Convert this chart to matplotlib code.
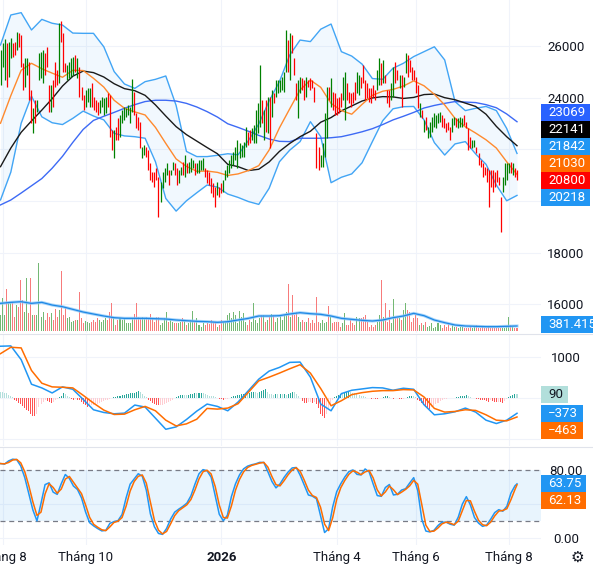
import numpy as np
import pandas as pd
import matplotlib
matplotlib.use("Agg")
import matplotlib.pyplot as plt
from matplotlib.patches import Rectangle
from matplotlib.lines import Line2D

plt.rcParams['font.family'] = ['Roboto', 'DejaVu Sans']

W, H, DPI = 593, 565, 100
FS = 9.5
INK = '#131722'
GRID = '#f0f3fa'

# OHLC bar range per session, hundreds of VND (Aug 2025 -> Aug 2026)
bar_high = [
    258.5, 261.0, 262.6, 261.0, 261.7, 263.0, 261.0, 261.7, 265.5, 264.9, 264.3, 253.3, 255.2, 255.2, 253.9, 243.0,
    235.9, 239.1, 239.1, 257.2, 257.8, 258.5, 257.2, 259.7, 244.9, 244.9, 246.8, 253.9, 250.7, 268.8, 269.6, 264.9,
    253.3, 252.6, 253.9, 255.2, 255.9, 256.5, 255.2, 252.0, 244.3, 241.0, 243.0, 243.6, 243.6, 245.6, 240.4, 239.1,
    238.5, 239.1, 240.4, 239.8, 240.4, 241.7, 241.0, 227.5, 227.5, 228.8, 232.0, 233.3, 235.2, 236.5, 235.9, 237.2,
    236.5,
    247.4, 242.3, 233.9, 232.7, 230.7, 221.0, 221.6, 221.0, 219.7, 214.6, 211.4, 211.4, 212.7, 209.4, 207.5, 211.4,
    212.7, 214.6, 212.0, 212.0, 215.2, 214.6, 212.7, 212.0, 213.3, 215.2, 217.8, 214.6, 215.2, 216.5, 215.9, 214.6,
    214.6, 215.9, 215.9, 216.5, 212.7, 212.0, 211.4, 208.8, 206.9, 205.6, 207.5, 205.6, 206.9, 208.1, 212.0, 214.0,
    215.9, 217.8, 219.1, 221.0, 223.6, 222.3, 221.6, 223.0, 228.8, 226.8, 227.5, 228.1, 229.4,
    235.2, 237.8, 252.6, 239.1, 235.2, 239.1, 240.4, 240.4, 243.0, 241.7, 246.8, 246.8, 246.8, 248.1, 250.1, 266.2,
    262.3, 264.9, 264.3, 255.2, 245.6, 246.8, 248.1, 247.5, 246.8, 248.1, 246.8, 247.5, 246.8, 244.3, 226.2, 221.0,
    217.8, 222.3, 233.9, 244.3, 244.3, 247.5, 242.3, 241.7, 239.8, 240.4, 241.7, 248.1, 250.1, 245.6, 242.3, 241.7,
    242.3, 246.2, 250.1, 248.8, 248.1, 252.6, 246.8, 245.6, 243.6, 243.6, 244.9, 243.0, 250.7, 255.2, 253.3, 254.6,
    248.8, 243.0,
    243.0, 245.6, 252.0, 253.9, 250.7, 248.8, 248.8, 248.1, 257.2, 256.5, 254.6, 252.0, 250.7, 248.1, 244.9, 237.8,
    235.2, 231.4, 232.7, 228.8, 230.7, 232.7, 233.9, 233.3, 233.9, 234.6, 233.3, 232.0, 230.1, 230.7, 228.8, 232.0,
    232.7, 232.0, 232.0, 232.7, 232.0, 233.3, 230.7, 228.1, 224.9, 223.6, 223.6, 221.0, 218.5, 215.9, 214.6, 213.3,
    212.7, 212.0, 212.0, 212.0, 211.4, 212.0, 209.4, 201.7, 209.4, 214.6, 214.6, 214.6, 215.2, 214.6, 212.7, 212.0,
]
bar_low = [
    244.9, 252.0, 246.8, 244.3, 248.1, 255.2, 255.9, 256.5, 258.5, 259.7, 252.0, 243.0, 244.3, 248.8, 239.1, 230.1,
    226.2, 230.1, 234.6, 246.8, 247.5, 245.6, 248.8, 252.0, 234.6, 234.6, 236.5, 244.3, 244.9, 245.6, 261.7, 250.1,
    250.1, 246.8, 247.5, 248.1, 248.8, 250.1, 247.5, 240.4, 239.1, 235.2, 236.5, 238.5, 236.5, 236.5, 235.2, 234.6,
    233.3, 234.0, 236.5, 233.3, 234.0, 236.5, 224.9, 219.8, 216.5, 223.6, 223.6, 224.9, 230.1, 231.4, 232.7, 233.3,
    230.1,
    234.6, 233.3, 228.1, 227.5, 220.4, 216.5, 217.8, 217.2, 212.0, 208.1, 207.5, 205.6, 208.1, 193.7, 199.7, 204.9,
    207.5, 210.1, 206.2, 210.1, 212.0, 210.1, 206.2, 206.8, 210.1, 210.1, 209.4, 210.8, 210.8, 211.4, 212.7, 210.1,
    210.8, 210.8, 212.0, 212.0, 209.4, 206.8, 206.2, 203.0, 201.7, 197.6, 202.4, 201.7, 203.0, 203.6, 208.1, 209.4,
    210.8, 212.7, 214.0, 215.9, 212.7, 216.5, 217.2, 217.2, 221.0, 221.6, 222.3, 223.6, 222.3,
    222.3, 226.2, 228.8, 230.1, 223.6, 226.8, 226.2, 220.4, 232.7, 237.8, 240.4, 241.7, 242.3, 243.0, 242.3, 250.1,
    250.1, 246.8, 257.2, 248.8, 239.1, 232.0, 241.7, 243.0, 239.1, 240.4, 244.3, 243.0, 243.6, 238.5, 212.7, 212.0,
    213.3, 213.3, 217.2, 224.3, 239.1, 236.5, 235.2, 233.3, 233.3, 233.9, 236.5, 239.1, 231.4, 239.1, 237.8, 236.5,
    237.8, 239.1, 241.7, 241.0, 243.6, 245.6, 239.1, 239.8, 238.5, 237.8, 240.4, 239.1, 243.0, 244.9, 244.9, 245.6,
    245.6, 237.8,
    236.5, 239.1, 240.4, 245.6, 246.8, 243.6, 236.5, 244.3, 249.4, 248.1, 250.1, 246.8, 246.8, 241.7, 235.9, 232.7,
    232.0, 226.8, 227.5, 224.3, 224.9, 226.8, 228.8, 228.1, 230.1, 230.7, 228.8, 228.1, 226.8, 227.5, 223.6, 226.8,
    229.4, 228.8, 228.1, 228.8, 228.8, 229.4, 228.1, 219.8, 220.4, 220.4, 221.0, 218.5, 213.9, 213.3, 209.4, 210.1,
    207.5, 197.8, 205.6, 203.6, 205.6, 207.5, 206.2, 187.9, 203.6, 206.2, 208.1, 210.7, 210.7, 210.1, 209.4, 208.1,
]
# G = session closed up, R = closed down
bar_dir = (
    "GGGRGGRRGR" "RRGGRRGRGG" "GGRRRGRRRG" "RRRGGGGRGR" "RRGGGRRRRG" "GGGRRRGRRG" "GGGGG"
    "GRRRRGGRRR" "RRRRGGGGRG" "GRRGGRGRGG" "GRGGGGRRRR" "RRGRRGGGGG" "GGGGGGGRRGG"
    "GGGRGRGRGR" "GGGGGGRGRR" "RGGRRGRRRR" "RRGGGGRGRR" "RRRGGRRRRR" "GGRRRRRRRR" "GGRGRR"
    "RGGRRGRGGR" "RRRRRGRGRG" "GGGGGGRRRR" "RGGRGGGRRR" "RGGRRRRRRR" "RRRRRRGGGG" "RGRR"
)

# volume per session, thousands of shares
volume_k = [
    1219, 2489, 1219, 3175, 2235, 2108, 2235, 1092, 1981, 1854, 3886, 2362, 1473, 4013, 1346, 4013,
    1219, 1219, 1219, 5156, 1092, 1473, 838, 1397, 1092, 1346, 838, 1651, 1092, 1600, 4572, 1219,
    1727, 965, 1092, 711, 787, 838, 838, 2997, 965, 584, 762, 711, 584, 711, 838, 711,
    965, 838, 711, 838, 965, 838, 1473, 2108, 1092, 457, 838, 965, 838, 965, 584, 584,
    584, 965, 1295, 2108, 1092, 965, 1092, 965, 1092, 965, 1295, 965, 711, 1092, 1092, 457,
    584, 965, 1473, 711, 838, 711, 635, 584, 635, 711, 965, 838, 457, 584, 838, 1524,
    711, 965, 457, 330, 584, 457, 584, 533, 838, 584, 711, 330, 457, 838, 711, 711,
    1219, 1397, 965, 1473, 1219, 584, 1524, 1092, 1346, 711, 457, 838, 711, 2159, 838, 584,
    965, 1219,
    1219, 711, 838, 1092, 1270, 1219, 711, 965, 1219, 838, 1219, 1473, 3581, 1092, 2743, 1219,
    1473, 1092, 711, 838, 711, 711, 965, 584, 838, 584, 2616, 711, 584, 838, 584, 711,
    1905, 1092, 584, 711, 711, 711, 330, 584, 1346, 457, 457, 838, 584, 457, 1092, 965,
    965, 1092, 1219, 711, 330, 457, 330, 457, 711, 1219, 3886, 1092, 2159, 711, 1600, 584,
    2413, 1092, 965, 965, 838, 1600, 2159, 1600, 1473, 711, 965, 1219, 965, 457, 584, 457,
    711, 330, 381, 584, 203, 330, 635, 457, 203, 457, 279, 584, 203, 457, 330, 279,
    203, 330, 279, 203, 254, 203, 330, 203, 279, 457, 203, 203, 330, 254, 203, 279,
    203, 254, 203, 254, 203, 203, 254, 203, 279, 1092, 457, 330, 254, 203,
]

# MACD histogram per session
macd_hist = [
    150, 150, 120, 110, 80, 60, 20, -60, -70, -120, -150, -200, -240, -290, -320, -400,
    -450, -450, -380, -220, -140, -100, -60, -70, -100, -130, -100, -60, -30, 20, 60, 130,
    90, 50, 20, -20, -40, -30, -50, -60, -100, -140, -180, -220, -200, -170, -160, -150,
    -140, -120, -100, -80, -60, -40, -20, 10, 20, 30, 40, 60, 70, 80, 90, 100,
    110, 120, 130, 150, 160, 140, 100, 60, 20, -40, -80, -120, -150, -170, -180, -170,
    -160, -140, -120, -100, -70, -40, -10, 20, 50, 70, 80, 70, 70, 80, 90, 100,
    110, 110, 120, 130, 110, 100, 80, 60, 50, 40, 20, 10, -20, -30, -40, -30,
    -20, -10, 20, 40, 60, 70, 80, 90, 100, 110, 90, 120, 140, 150, 140, 130,
    150, 160,
    200, 220, 150, 100, 90, 80, 90, 90, 100, 90, 100, 80, 100, 130, 150, 140,
    100, 60, 10, -80, -110, -120, -100, -90, -110, -100, -150, -250, -400, -450, -500, -380,
    -250, -150, -60, 20, 60, 80, 100, 100, 120, 140, 160, 140, 120, 110, 90, 70,
    50, 40, 30, 10, -10, -20, -15, -20, -25, -10, 10, 20, 40, 60, 30, -10,
    -20, -10, 10, -20, -30, -20, 10, 30, 50, 60, 50, 20, -40, -80, -130, -170,
    -210, -250, -260, -230, -200, -150, -110, -80, -50, -30, -20, -10, -10, -5, 5, 20,
    30, 40, 50, 60, 70, 40, 20, 10, -10, -20, -30, -40, -50, -60, -80, -90,
    -60, -70, -90, -100, -90, -100, -110, -80, -30, 20, 50, 80, 100, 90,
]

# smooth lines, sampled 51 times evenly from first to last session
ma_fast = [
    230.1, 240.8, 250.6, 253.3, 251.2, 249.5, 247.9, 250.6, 250.5, 247.5, 244.1, 239.0, 235.9, 234.5, 233.3, 228.5,
    222.3, 216.3, 213.4, 211.5, 211.6, 211.1, 209.9, 210.5, 211.8, 213.7, 219.7, 228.3, 235.7, 243.0, 246.8, 244.0,
    237.8, 235.0, 233.6, 237.4, 240.9, 242.5, 243.2, 244.5, 246.5, 244.6, 241.3, 237.2, 232.0, 228.7, 226.3, 223.7,
    220.5, 215.2, 210.3,
]
ma_mid = [
    213.3, 220.5, 226.6, 231.0, 235.2, 239.6, 244.5, 248.3, 250.3, 249.7, 248.0, 245.4, 243.5, 242.7, 240.9, 237.2,
    232.9, 228.8, 225.7, 223.2, 220.7, 218.3, 214.2, 213.3, 211.8, 212.3, 215.1, 219.2, 222.3, 224.9, 227.0, 230.5,
    232.3, 234.9, 236.8, 238.7, 239.9, 240.4, 240.3, 239.7, 240.1, 241.2, 241.4, 240.0, 239.2, 237.9, 236.6, 233.6,
    228.9, 224.9, 221.41,
]
ma_slow = [
    198.5, 200.4, 203.1, 205.9, 208.7, 212.7, 217.3, 222.7, 227.7, 231.2, 232.8, 234.3, 235.9, 237.3, 238.5, 239.0,
    239.0, 238.7, 237.8, 236.4, 234.6, 232.5, 229.9, 228.5, 227.0, 225.4, 224.0, 223.1, 223.0, 224.3, 224.3, 224.3,
    224.5, 224.9, 225.8, 226.8, 228.0, 229.6, 231.4, 232.8, 234.3, 236.0, 237.0, 237.8, 238.5, 238.3, 238.1, 237.3,
    236.1, 233.7, 230.69,
]
bb_upper = [
    260.4, 272.0, 272.9, 266.2, 270.3, 268.8, 268.1, 265.0, 264.9, 264.9, 259.7, 250.1, 245.3, 243.6, 246.2, 247.1,
    248.4, 237.0, 219.2, 217.2, 217.2, 217.7, 218.3, 217.9, 223.4, 229.8, 238.7, 246.2, 256.5, 262.3, 261.7, 266.5,
    268.5, 257.8, 256.1, 253.0, 247.4, 247.1, 251.4, 253.3, 255.9, 257.8, 259.7, 254.6, 238.5, 235.0, 235.9, 236.6,
    235.0, 228.1, 218.42,
]
bb_lower = [
    200.4, 211.2, 230.1, 240.6, 232.6, 230.3, 229.6, 232.0, 234.8, 232.9, 231.4, 226.2, 225.2, 224.9, 224.3, 215.2,
    201.0, 196.1, 200.1, 203.2, 206.2, 205.4, 202.7, 201.4, 199.8, 198.7, 204.9, 215.2, 219.7, 223.0, 230.7, 224.9,
    207.1, 209.2, 210.5, 214.8, 223.0, 231.1, 235.7, 236.5, 236.6, 231.4, 222.6, 217.8, 222.1, 223.0, 218.2, 214.2,
    206.2, 200.1, 202.18,
]
macd_line = [
    1263, 1271, 935, 336, 246, 123, 271, 213, -33, -287, -353, -385, -369, -172, -221, -492,
    -763, -705, -525, -320, -148, -205, -312, -98, 180, 459, 656, 746, 869, 877, 508, -148,
    -312, 107, 189, 221, 254, 246, 189, 238, 213, -164, -410, -385, -336, -246, -344, -541,
    -623, -541, -373,
]
macd_signal = [
    1082, 1238, 1222, 672, 361, 271, 262, 246, 66, -123, -295, -402, -394, -287, -205, -312,
    -541, -681, -631, -517, -254, -271, -246, -139, 139, 418, 508, 607, 713, 812, 607, 230,
    -189, -66, 82, 131, 164, 180, 180, 205, 197, 25, -254, -344, -328, -287, -303, -410,
    -541, -558, -463,
]
volume_ma_k = [
    2108, 2184, 2235, 2108, 2184, 1981, 1854, 1651, 1448, 1295, 1143, 1016, 965, 965, 965, 940,
    914, 838, 787, 737, 711, 660, 711, 838, 965, 1143, 1143, 1168, 1295, 1397, 1321, 1270,
    1143, 965, 889, 813, 762, 838, 1016, 1143, 1346, 1168, 838, 635, 457, 381, 356, 330,
    330, 356, 381.415,
]

# stochastic %K every second session, plus the last session
stoch_k = [
    87.5, 86.9, 90.6, 92.6, 92.1, 84.6, 71.0, 51.9, 33.2, 20.5, 41.0, 62.9, 65.0, 54.1, 51.5, 64.0,
    74.7, 70.2, 61.3, 57.2, 47.4, 30.9, 18.4, 14.6, 11.5, 8.8, 9.4, 17.6, 19.6, 20.8, 27.9, 47.3,
    63.4, 69.6, 75.6, 72.8, 56.3, 28.7, 13.6, 5.8, 4.7, 11.6, 22.6, 30.7, 34.2, 37.4, 41.2, 49.7,
    63.4, 75.6, 80.4, 79.0, 71.6, 49.8, 28.3, 20.6, 27.0, 48.9, 63.7, 74.2, 81.3, 84.5, 86.1, 87.2,
    88.9, 88.8, 78.0, 66.6, 59.1, 63.7, 71.3, 77.6, 82.4, 82.9, 73.6, 62.3, 50.8, 49.4, 46.3, 26.6,
    6.9, 11.4, 36.8, 54.7, 63.9, 71.8, 78.1, 80.0, 74.9, 74.2, 81.2, 77.8, 63.5, 50.1, 49.2, 59.5,
    63.0, 50.8, 51.6, 56.5, 58.1, 64.7, 71.0, 55.9, 22.4, 8.6, 7.6, 9.4, 15.1, 19.0, 19.0, 16.6,
    15.5, 24.9, 40.0, 48.8, 39.1, 24.5, 17.9, 14.1, 15.6, 22.4, 30.2, 33.6, 31.8, 37.6, 52.9, 61.5,
    63.75,
]

month_first_bar = [1, 42, 109, 166, 205, 251]
month_names = ['Tháng 8', 'Tháng 10', '2026', 'Tháng 4', 'Tháng 6', 'Tháng 8']

price_tags = [23069, 22141, 21842, 21030, 20800, 20218]
price_tag_colors = ['#2962ff', '#000000', '#2196f3', '#ff6d00', '#ff0000', '#2196f3']
volume_tag = 381.415
macd_tags = [90, -373, -463]
stoch_tags = [63.75, 62.13]

n = len(bar_high)
assert len(bar_low) == n and len(bar_dir) == n and len(volume_k) == n and len(macd_hist) == n
idx = np.arange(n)
high = np.array(bar_high) * 100
low = np.array(bar_low) * 100
up = np.array([c == 'G' for c in bar_dir])
line_x = np.linspace(0, n - 1, len(ma_fast))
k_x = np.r_[np.arange(0, n - 1, 2), n - 1]
stoch_d = pd.Series(stoch_k).rolling(2, min_periods=1).mean()

fig = plt.figure(figsize=(W / DPI, H / DPI), dpi=DPI)
fig.patch.set_facecolor('white')

CHART_R = 541
ppb = 516.5 / (n - 1)
XLIM = (-0.5 / ppb, (CHART_R - 0.5) / ppb)


def pane(top, bottom, ylim, grid):
    ax = fig.add_axes([0, 1 - bottom / H, CHART_R / W, (bottom - top) / H])
    ax.set_xlim(*XLIM)
    ax.set_ylim(*ylim)
    for s in ax.spines.values():
        s.set_visible(False)
    ax.set_xticks([])
    for v in grid:
        ax.axhline(v, color=GRID, lw=0.8, zorder=0)
    for m in month_first_bar:
        ax.axvline(m, color=GRID, lw=0.8, zorder=0)
    return ax


def right_scale(ax, ticks, labels):
    ax.set_yticks(ticks)
    ax.set_yticklabels(labels)
    ax.yaxis.set_ticks_position('right')
    ax.tick_params(axis='y', length=0, pad=18, labelsize=FS, labelcolor=INK,
                   left=False, labelleft=False, right=False, labelright=True)
    for tk in ax.yaxis.get_major_ticks():
        tk.label2.set_horizontalalignment('center')


# price pane with volume overlay
ax_p = pane(0, 333, (14893, 27780), range(16000, 26001, 2000))
ax_p.fill_between(line_x, np.array(bb_lower) * 100, np.array(bb_upper) * 100,
                  color='#2196f3', alpha=0.06, lw=0, zorder=1)
ax_p.plot(line_x, np.array(bb_upper) * 100, color='#42a5f5', lw=1.0, zorder=2)
ax_p.plot(line_x, np.array(bb_lower) * 100, color='#42a5f5', lw=1.0, zorder=2)
ax_p.plot(line_x, np.array(ma_slow) * 100, color='#3d6af5', lw=1.0, zorder=2)
ax_p.plot(line_x, np.array(ma_mid) * 100, color='#1a1a1a', lw=1.0, zorder=2)
ax_p.plot(line_x, np.array(ma_fast) * 100, color='#ff8a2e', lw=1.0, zorder=2)
ax_p.vlines(idx, low, high, colors=np.where(up, '#008000', '#ff0000'), lw=0.9, zorder=3)

ax_v = ax_p.twinx()
ax_v.set_xlim(*XLIM)
ax_v.set_ylim(-153, 25255)
ax_v.axis('off')
ax_v.bar(idx, volume_k, width=0.5, color=np.where(up, '#74b874', '#f77b7b'), lw=0, zorder=2)
ax_v.plot(line_x, volume_ma_k, color='#90caf9', lw=2.2, alpha=0.8, zorder=3)
ax_v.plot(line_x, volume_ma_k, color='#1e88e5', lw=0.9, zorder=4)
# 22000 and 20000 sit under the value tags, as on the reference scale
right_scale(ax_p, [16000, 18000, 24000, 26000], ['16000', '18000', '24000', '26000'])

# MACD pane
ax_m = pane(335, 446, (-1171, 1537), [-1000, 0, 1000])
right_scale(ax_m, [1000], ['1000'])
hist = np.array(macd_hist)
prev = np.r_[hist[0], hist[:-1]]
hist_colors = np.where(hist >= 0,
                       np.where(hist > prev, '#26a69a', '#b2dfdb'),
                       np.where(hist > prev, '#ffcdd2', '#ff5252'))
ax_m.bar(idx, hist, width=0.5, color=hist_colors, lw=0, zorder=2)
ax_m.plot(line_x, macd_line, color='#2196f3', lw=1.1, zorder=3)
ax_m.plot(line_x, macd_signal, color='#ff6d00', lw=1.1, zorder=3)

# stochastic pane
ax_s = pane(448, 545, (-7.7, 105.7), [0, 40])
right_scale(ax_s, [0, 80], ['0.00', '80.00'])
ax_s.axhspan(20, 80, color='#2196f3', alpha=0.1, lw=0, zorder=1)
for lvl in (20, 80):
    ax_s.axhline(lvl, color='#787b86', lw=0.9, dashes=(4, 3), zorder=2)
ax_s.plot(k_x, stoch_k, color='#2196f3', lw=1.1, zorder=3)
ax_s.plot(k_x, stoch_d, color='#ff6d00', lw=1.1, zorder=4)
ax_s.set_xticks(month_first_bar)
ax_s.set_xticklabels(month_names)
ax_s.tick_params(axis='x', length=0, pad=4.5, labelsize=FS, labelcolor=INK)
ax_s.get_xticklabels()[2].set_fontweight('bold')

for y in (334, 447):
    fig.add_artist(Line2D([0, 1], [1 - y / H] * 2, transform=fig.transFigure,
                          color='#e0e3eb', lw=0.8))
fig.text(577 / W, 1 - 557 / H, '\u2699', family='DejaVu Sans', fontsize=11,
         color=INK, ha='center', va='center')

# value tags on the right scale
renderer = fig.canvas.get_renderer()


def to_px(ax, v):
    return H - ax.transData.transform((0, v))[1]


def stack(ys, anchor, gap=17.0):
    order = sorted(range(len(ys)), key=lambda i: ys[i])
    pos = {}
    a = order.index(anchor)
    pos[order[a]] = ys[order[a]]
    for j in range(a + 1, len(order)):
        pos[order[j]] = max(ys[order[j]], pos[order[j - 1]] + gap)
    for j in range(a - 1, -1, -1):
        pos[order[j]] = min(ys[order[j]], pos[order[j + 1]] - gap)
    return [pos[i] for i in range(len(ys))]


def tag(y, text, face, ink='white'):
    t = fig.text(548 / W, 1 - y / H, text, ha='left', va='center', fontsize=FS,
                 color=ink, zorder=11)
    w = t.get_window_extent(renderer).width
    fig.add_artist(Rectangle((541 / W, 1 - (y + 8.5) / H), (w + 12) / W, 17 / H,
                             transform=fig.transFigure, facecolor=face,
                             edgecolor='none', zorder=10))


ys = stack([to_px(ax_p, v) for v in price_tags], anchor=4)
for y, v, c in zip(ys, price_tags, price_tag_colors):
    tag(y, str(v), c)

tag(min(to_px(ax_v, volume_tag), 333 - 8.5), f'{volume_tag:.3f}K', '#2196f3')

ys = stack([to_px(ax_m, v) for v in macd_tags], anchor=0)
for y, v, c, ink in zip(ys, macd_tags, ['#b2dfdb', '#2196f3', '#ff6d00'], [INK, 'white', 'white']):
    tag(y, str(v).replace('-', '\u2212'), c, ink)

ys = stack([to_px(ax_s, v) for v in stoch_tags], anchor=0)
for y, v, c in zip(ys, stoch_tags, ['#2196f3', '#ff6d00']):
    tag(y, f'{v:.2f}', c)

fig.savefig('out.png', dpi=DPI, facecolor='white')
